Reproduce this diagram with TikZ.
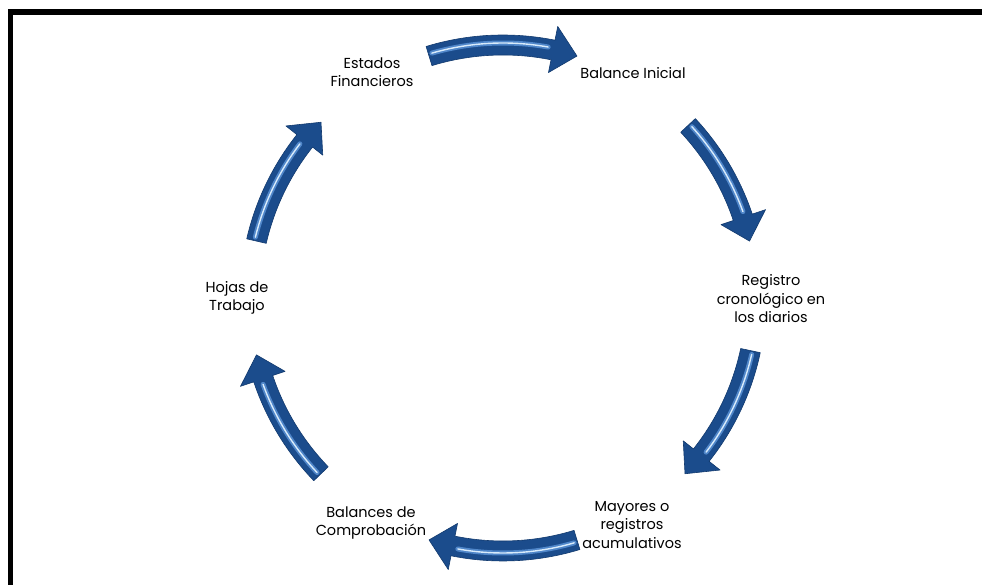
\documentclass[tikz,border=0pt]{standalone}
\usepackage{fontspec}
\setmainfont{Poppins}
\definecolor{arrdark}{HTML}{1B4C8C}
\definecolor{arredge}{HTML}{123A6E}
\definecolor{arrmid}{HTML}{4F86C9}
\definecolor{arrlight}{HTML}{D8EBFB}
\tikzset{
  lbl/.style={align=center, font=\fontsize{14.5}{18.5}\selectfont, inner sep=1pt},
  arrbody/.style={fill=arrdark, draw=arredge, line width=0.6pt, line join=round},
  arrhi/.style={draw=arrmid, line width=5pt, line cap=round},
  arrhl/.style={draw=arrlight, line width=1.4pt, line cap=round},
  frameline/.style={draw=black, line width=5.5pt}
}
\newcommand\cycarrow[2]{%
  \pgfmathsetmacro\hb{#2+5.6}%
  \pgfmathsetmacro\sa{#1-0.8}%
  \pgfmathsetmacro\hc{\hb+1.2}%
  \begin{scope}[shift={(503,287)}]
    \path[arrbody] (#1:243) arc[start angle=#1,end angle=\hb,radius=243]
      -- (\hb:230) -- (#2:253) -- (\hb:277) -- (\hb:263)
      arc[start angle=\hb,end angle=#1,radius=263] -- cycle;
    \draw[arrhi] (\sa:255) arc[start angle=\sa,end angle=\hc,radius=255];
    \draw[arrhl] (\sa:255) arc[start angle=\sa,end angle=\hc,radius=255];
  \end{scope}}
\begin{document}
\begin{tikzpicture}[x=1pt,y=1pt]
\useasboundingbox (0,0) rectangle (982,585);
\fill[white] (0,0) rectangle (982,585);
% frame (top and left only visible)
\draw[frameline] (8,573) -- (982,573);
\draw[frameline] (10.5,575.7) -- (10.5,0);
% arrows (clockwise)
\cycarrow{107}{73}
\cycarrow{43}{13}
\cycarrow{-12}{-44}
\cycarrow{-73}{-107}
\cycarrow{-136}{-167}
\cycarrow{167}{136}
% labels
\node[lbl] (ef) at (372,513) {Estados\\Financieros};
\node[lbl] (bi) at (633,512) {Balance Inicial};
\node[lbl] (rc) at (771,286) {Registro\\cronológico en\\los diarios};
\node[lbl] (my) at (632,60) {Mayores o\\registros\\acumulativos};
\node[lbl] (bc) at (371,62) {Balances de\\Comprobación};
\node[lbl] (ht) at (237,287) {Hojas de\\Trabajo};
\end{tikzpicture}
\end{document}
